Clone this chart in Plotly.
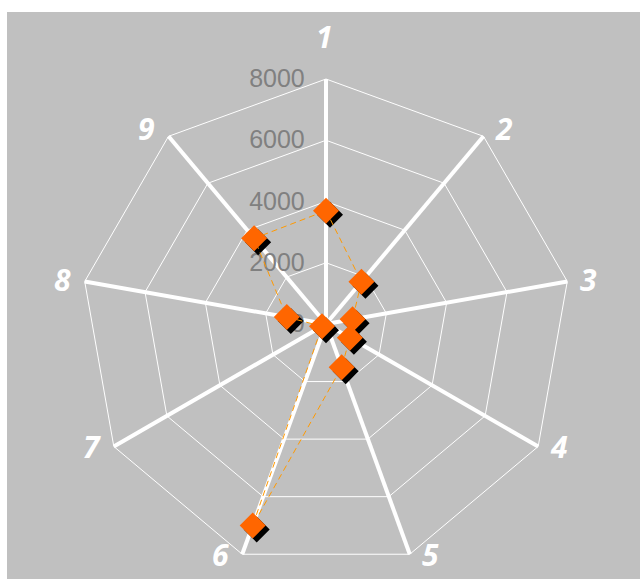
import math
import plotly.graph_objects as go

# Radar data: one series over nine numbered categories
categories = ["1", "2", "3", "4", "5", "6", "7", "8", "9"]
values = [3700, 1800, 880, 900, 1500, 7000, 150, 1300, 3650]
radial_ticks = [0, 2000, 4000, 6000, 8000]
radial_labels = ["0", "2000", "4000", "6000", "8000"]

W, H = 640, 579
CX, CY, R = 326, 324, 245          # chart centre and outer radius in pixels
SHADOW_DX, SHADOW_DY = 4, 4        # drop-shadow offset of the markers

GRAY = "#C0C0C0"
MARKER_ORANGE = "#FF6600"
LINE_ORANGE = "#FF9900"


def domain(ox=0, oy=0):
    return dict(
        x=[(CX + ox - R) / W, (CX + ox + R) / W],
        y=[1 - (CY + oy + R) / H, 1 - (CY + oy - R) / H],
    )


angular_common = dict(
    type="category",
    categoryarray=categories,
    rotation=90,
    direction="clockwise",
)
radial_common = dict(range=[0, 8000])

closed_theta = categories + categories[:1]
closed_r = values + values[:1]

fig = go.Figure()

# invisible trace so the grid subplot is rendered
fig.add_trace(go.Scatterpolar(
    r=values, theta=categories, mode="markers",
    marker=dict(opacity=0), hoverinfo="skip", showlegend=False,
    subplot="polar",
))

# marker shadows, drawn on a slightly shifted copy of the polar axes
fig.add_trace(go.Scatterpolar(
    r=values, theta=categories, mode="markers",
    marker=dict(symbol="diamond", size=20, color="black", line=dict(width=0)),
    hoverinfo="skip", showlegend=False, subplot="polar2",
))

# the series itself: dashed connecting line plus orange diamonds
fig.add_trace(go.Scatterpolar(
    r=closed_r, theta=closed_theta, mode="lines",
    line=dict(color=LINE_ORANGE, width=1, dash="6px,4px"),
    showlegend=False, subplot="polar3",
))
fig.add_trace(go.Scatterpolar(
    r=values, theta=categories, mode="markers",
    marker=dict(symbol="diamond", size=20, color=MARKER_ORANGE, line=dict(width=0)),
    showlegend=False, subplot="polar3",
))

hidden_polar = dict(
    bgcolor="rgba(0,0,0,0)",
    gridshape="linear",
    radialaxis=dict(visible=False, **radial_common),
    angularaxis=dict(visible=False, **angular_common),
)

# category labels beside each spoke end: left/right of the vertex, the
# first one above it
label_font = dict(family="Open Sans", size=30, color="white",
                  weight="bold", style="italic")
annotations = []
n = len(categories)
for i, name in enumerate(categories):
    a = 2 * math.pi * i / n
    vx = CX + R * math.sin(a)
    vy = CY - R * math.cos(a)
    s = math.sin(a)
    if abs(s) < 1e-6:
        dx, dy = -2, -43
    else:
        dx = 21 if s > 0 else -22
        dy = -10 * max(math.cos(a), 0)
    annotations.append(dict(
        text=name, showarrow=False, xref="paper", yref="paper",
        x=(vx + dx) / W, y=1 - (vy + dy) / H,
        xanchor="center", yanchor="middle", font=label_font,
    ))

fig.update_layout(
    width=W, height=H,
    margin=dict(l=0, r=0, t=0, b=0),
    paper_bgcolor="white",
    showlegend=False,
    annotations=annotations,
    shapes=[dict(
        type="rect", xref="paper", yref="paper",
        x0=7 / W, x1=1, y0=0, y1=1 - 12 / H,
        fillcolor=GRAY, line=dict(width=0), layer="below",
    )],
    polar=dict(
        domain=domain(),
        bgcolor=GRAY,
        gridshape="linear",
        radialaxis=dict(
            angle=90,
            side="counterclockwise",
            tickangle=90,
            tickvals=radial_ticks,
            ticktext=radial_labels,
            ticks="outside",
            ticklen=12,
            tickcolor="rgba(0,0,0,0)",
            showline=False,
            showgrid=True,
            gridcolor="white",
            gridwidth=1,
            tickfont=dict(family="Liberation Sans", size=25, color="#808080"),
            **radial_common,
        ),
        angularaxis=dict(
            showgrid=True,
            gridcolor="white",
            gridwidth=4,
            showline=True,
            linecolor="white",
            linewidth=1,
            ticks="",
            showticklabels=False,
            **angular_common,
        ),
    ),
    polar2=dict(domain=domain(SHADOW_DX, SHADOW_DY), **hidden_polar),
    polar3=dict(domain=domain(), **hidden_polar),
)

fig.write_html("out.html")
